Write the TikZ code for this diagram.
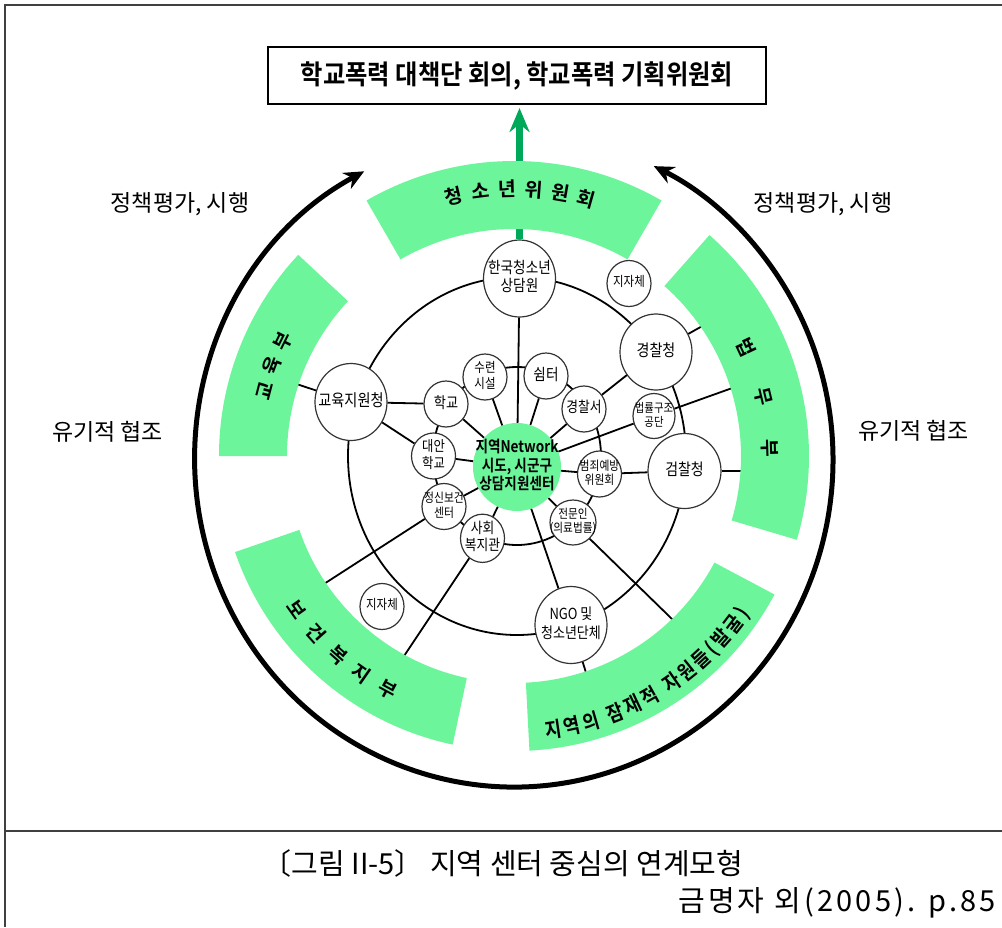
\documentclass[tikz,border=0pt]{standalone}
\usepackage{fontspec}
\setmainfont{Noto Sans CJK KR}[BoldFont={Noto Sans CJK KR Bold}]
\newfontfamily\condfont{Noto Sans CJK KR}[FakeStretch=0.9,BoldFont={Noto Sans CJK KR Bold}]
\newfontfamily\nodefont{Noto Sans CJK KR}[FakeStretch=0.85,BoldFont={Noto Sans CJK KR Bold}]
\usetikzlibrary{arrows.meta}
\usetikzlibrary{shapes.geometric}
\usetikzlibrary{decorations.text}
\definecolor{bandgreen}{RGB}{108,245,155}
\definecolor{arrowgreen}{RGB}{0,168,89}
\newcommand{\ntxt}[1]{\makebox[0pt]{\begin{tabular}{@{}c@{}}#1\end{tabular}}}
\tikzset{   bignode/.style = {ellipse, draw = black!80, line width = 1.2pt, fill = white, inner sep = 0pt, minimum width = 72pt, minimum height = 77pt},
            smallnode/.style = {ellipse, draw = black!80, line width = 1.2pt, fill = white, inner sep = 0pt, minimum width = 44pt, minimum height = 46pt},
            hub/.style = {circle, fill = bandgreen, inner sep = 0pt, minimum size = 88pt, font = \nodefont\bfseries\fontsize{16}{16.5}\selectfont},
            netline/.style = {line width = 1.8pt},
            frameline/.style = {line width = 1.5pt, black!75},
            bandfill/.style = {fill = bandgreen},
            bandtext/.style = {inner sep = 0pt, font = \bfseries\fontsize{19.5}{19.5}\selectfont},
            sidetext/.style = {inner sep = 0pt, font = \fontsize{23}{23}\selectfont}}

\begin{document}
\begin{tikzpicture}[x=1pt,y=1pt]
  \useasboundingbox (0,0) rectangle (1002,-927);
  \draw[frameline] (1002,-5) -- (5,-5) -- (5,-927);
  \draw[frameline] (5,-831) -- (1002,-831);

  \node[draw, line width = 2pt, fill = white, minimum width = 498pt, minimum height = 57pt,
        font = \condfont\bfseries\fontsize{27}{27}\selectfont] (title) at (517,-75.5) {학교폭력 대책단 회의, 학교폭력 기획위원회};

  % outer loop with both arrows
  \draw[line width = 5pt, {Stealth[length=20pt,width=18pt]}-{Stealth[length=20pt,width=18pt]}]
    (364.2,-171.3) arc[start angle=118, end angle=424, x radius=319, y radius=327];

  \draw[netline] (517,-456) ellipse [x radius=169, y radius=179];
  \draw[netline] (517,-456) ellipse [x radius=84, y radius=89];

  \node[hub] (hub) at (517,-467) {\ntxt{지역Network\\시도, 시군구\\상담지원센터}};
  \node[bignode, font = \nodefont\fontsize{16}{18.4}\selectfont] (kycc) at (519.5,-278.5) {\ntxt{한국청소년\\상담원}};
  \node[smallnode, font = \nodefont\fontsize{13.5}{14}\selectfont] (localgov1) at (629,-283.5) {\ntxt{지자체}};
  \node[bignode, minimum height = 76pt, font = \nodefont\fontsize{16.5}{17}\selectfont] (police) at (656,-352) {\ntxt{경찰청}};
  \node[bignode, font = \nodefont\fontsize{16.7}{17}\selectfont] (eduoffice) at (351,-402) {\ntxt{교육지원청}};
  \node[smallnode, font = \nodefont\fontsize{13.5}{14}\selectfont] (camp) at (485,-377) {\ntxt{수련\\시설}};
  \node[smallnode, font = \nodefont\fontsize{16}{17}\selectfont] (shelter) at (546,-376) {\ntxt{쉼터}};
  \node[smallnode, font = \nodefont\fontsize{15.5}{16}\selectfont] (school) at (446,-404) {\ntxt{학교}};
  \node[smallnode, font = \nodefont\fontsize{15}{16}\selectfont] (station) at (584,-409) {\ntxt{경찰서}};
  \node[smallnode, minimum width = 42pt, minimum height = 45pt, font = \nodefont\fontsize{12.2}{11}\selectfont] (legalaid) at (654,-416) {\ntxt{법률구조\\공단}};
  \node[smallnode, font = \nodefont\fontsize{14.5}{14}\selectfont] (altschool) at (433.5,-456) {\ntxt{대안\\학교}};
  \node[smallnode, font = \nodefont\fontsize{12.7}{12}\selectfont] (crimeprev) at (599.5,-474) {\ntxt{범죄예방\\위원회}};
  \node[bignode, minimum width = 73pt, minimum height = 75pt, font = \nodefont\fontsize{16.4}{17}\selectfont] (prosecution) at (684.5,-471) {\ntxt{검찰청}};
  \node[smallnode, font = \nodefont\fontsize{12.7}{14}\selectfont] (mental) at (444,-506.5) {\ntxt{정신보건\\센터}};
  \node[smallnode, minimum width = 46pt, minimum height = 45pt, font = \nodefont\fontsize{12.5}{14}\selectfont] (experts) at (573,-522.5) {\ntxt{전문인\\(의료법률)}};
  \node[smallnode, font = \nodefont\fontsize{15}{15.5}\selectfont] (welfare) at (482.5,-538.3) {\ntxt{사회\\복지관}};
  \node[smallnode, font = \nodefont\fontsize{13.5}{14}\selectfont] (localgov2) at (382,-606.5) {\ntxt{지자체}};
  \node[bignode, font = \nodefont\fontsize{15.3}{19}\selectfont] (ngo) at (571,-625) {\ntxt{NGO 및\\청소년단체}};

  \coordinate (ePolice) at (712.7,-320.2);
  \coordinate (eLegal) at (743.5,-384);
  \coordinate (eProsec) at (753,-471);
  \coordinate (eExperts) at (680.4,-627.2);
  \coordinate (eNgo) at (589.6,-684);
  \coordinate (eWelfare) at (396.5,-667.3);
  \coordinate (eMental) at (313.8,-590.5);
  \coordinate (eEdu) at (286.5,-380.7);
  \coordinate (kTop) at (519.5,-226);
  \coordinate (tTop) at (519.5,-166);

  \foreach \n in {kycc,camp,shelter,school,altschool,mental,welfare,ngo,experts,crimeprev,legalaid,station}
    \draw[netline] (hub) -- (\n);
  \draw[netline] (school) -- (eduoffice);
  \draw[netline] (altschool) -- (eduoffice);
  \draw[netline] (station) -- (police);
  \draw[netline] (crimeprev) -- (prosecution);
  \draw[netline] (police) -- (ePolice);
  \draw[netline] (legalaid) -- (eLegal);
  \draw[netline] (prosecution) -- (eProsec);
  \draw[netline] (experts) -- (eExperts);
  \draw[netline] (ngo) -- (eNgo);
  \draw[netline] (welfare) -- (eWelfare);
  \draw[netline] (mental) -- (eMental);
  \draw[netline] (eduoffice) -- (eEdu);

  \draw[line width = 7pt, arrowgreen] (kycc.north) -- (kTop);
  \draw[line width = 7pt, arrowgreen, -{Stealth[length=24pt,width=20pt]}, shorten >= 3pt] (tTop) -- (tTop |- title.south);

  \begin{scope}[shift={(514,-456)}]
    \foreach \a/\b in {60/120,137/180,199/258,-16.5/48.5,-87/-28}
      \fill[bandfill] (\a:295) arc[start angle=\a, end angle=\b, radius=295] -- (\b:227) arc[start angle=\b, end angle=\a, radius=227] -- cycle;
    \foreach \ch [count=\i from 0] in {청,소,년,위,원,회}
      \node[bandtext, rotate={13-5.74*\i}] (yc\i) at ({103-5.74*\i}:267) {\ch};
    \foreach \ch [count=\i from 0] in {교,육,부}
      \node[bandtext, rotate={75.3-5.85*\i}] (ed\i) at ({165.3-5.85*\i}:258) {\ch};
    \foreach \ch [count=\i from 0] in {법,무,부}
      \node[bandtext, rotate={-64.8-11.7*\i}] (jm\i) at ({25.2-11.7*\i}:256) {\ch};
    \foreach \ch [count=\i from 0] in {보,건,복,지,부}
      \node[bandtext, rotate={305.2+6.6*\i}] (hw\i) at ({215.2+6.6*\i}:266) {\ch};
    \path[decorate, decoration={text along path, text align={fit to path},
          text={|\nodefont\bfseries\fontsize{21}{21}\selectfont|지역의 잠재적 자원들(발굴)}}]
      (-83.4:284) arc[start angle=-83.4, end angle=-33.8, radius=284];
  \end{scope}

  \node[sidetext] (policyL) at (180,-204) {정책평가, 시행};
  \node[sidetext] (policyR) at (823,-204) {정책평가, 시행};
  \node[sidetext] (coopL) at (107.5,-432) {유기적 협조};
  \node[sidetext] (coopR) at (913.5,-431) {유기적 협조};

  \node[inner sep = 0pt, font = \fontsize{29}{29}\selectfont] (caption) at (503,-863) {〔그림 II-5〕 지역 센터 중심의 연계모형};
  \node[inner sep = 0pt, anchor = east, font = \fontsize{29}{29}\selectfont\addfontfeature{LetterSpace=11}] (source) at (996,-903) {금명자 외(2005). p.85};
\end{tikzpicture}
\end{document}
